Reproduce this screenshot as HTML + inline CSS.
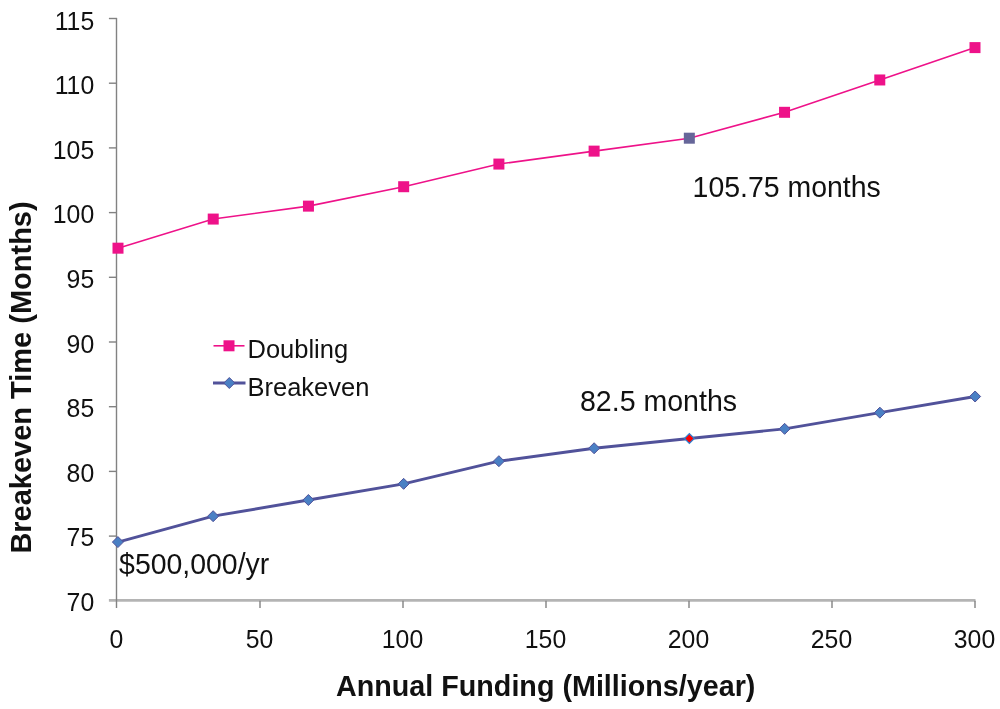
<!DOCTYPE html>
<html lang="en"><head><meta charset="utf-8"><title>Breakeven Time vs Annual Funding</title>
<style>html,body{margin:0;padding:0;background:#fff;}svg{display:block;will-change:transform;filter:blur(0.45px);}text{font-family:"Liberation Sans",Arial,sans-serif;fill:#111;}</style></head><body>
<svg width="1000" height="709" viewBox="0 0 1000 709">
<rect width="1000" height="709" fill="#fff"/>
<line x1="108.9" y1="600.4" x2="975.5" y2="600.4" stroke="#b4b4b4" stroke-width="2.6"/>
<g stroke="#828282" stroke-width="1.4" fill="none">
<line x1="116.5" y1="17.9" x2="116.5" y2="607.9"/>
<line x1="108.9" y1="18.50" x2="117.0" y2="18.50"/>
<line x1="108.9" y1="83.20" x2="117.0" y2="83.20"/>
<line x1="108.9" y1="147.90" x2="117.0" y2="147.90"/>
<line x1="108.9" y1="212.60" x2="117.0" y2="212.60"/>
<line x1="108.9" y1="277.30" x2="117.0" y2="277.30"/>
<line x1="108.9" y1="342.00" x2="117.0" y2="342.00"/>
<line x1="108.9" y1="406.70" x2="117.0" y2="406.70"/>
<line x1="108.9" y1="471.40" x2="117.0" y2="471.40"/>
<line x1="108.9" y1="536.10" x2="117.0" y2="536.10"/>
<line x1="260.00" y1="600.8" x2="260.00" y2="607.9"/>
<line x1="403.00" y1="600.8" x2="403.00" y2="607.9"/>
<line x1="546.00" y1="600.8" x2="546.00" y2="607.9"/>
<line x1="689.00" y1="600.8" x2="689.00" y2="607.9"/>
<line x1="832.00" y1="600.8" x2="832.00" y2="607.9"/>
<line x1="975.00" y1="600.8" x2="975.00" y2="607.9"/>
</g>
<text transform="translate(94.20,29.60) scale(1,1.04)" font-size="24.8" text-anchor="end">115</text>
<text transform="translate(94.20,94.18) scale(1,1.04)" font-size="24.8" text-anchor="end">110</text>
<text transform="translate(94.20,158.76) scale(1,1.04)" font-size="24.8" text-anchor="end">105</text>
<text transform="translate(94.20,223.34) scale(1,1.04)" font-size="24.8" text-anchor="end">100</text>
<text transform="translate(94.20,287.92) scale(1,1.04)" font-size="24.8" text-anchor="end">95</text>
<text transform="translate(94.20,352.50) scale(1,1.04)" font-size="24.8" text-anchor="end">90</text>
<text transform="translate(94.20,417.08) scale(1,1.04)" font-size="24.8" text-anchor="end">85</text>
<text transform="translate(94.20,481.66) scale(1,1.04)" font-size="24.8" text-anchor="end">80</text>
<text transform="translate(94.20,546.24) scale(1,1.04)" font-size="24.8" text-anchor="end">75</text>
<text transform="translate(94.20,610.82) scale(1,1.04)" font-size="24.8" text-anchor="end">70</text>
<text transform="translate(116.50,648.40) scale(1,1.04)" font-size="24.8" text-anchor="middle">0</text>
<text transform="translate(259.50,648.40) scale(1,1.04)" font-size="24.8" text-anchor="middle">50</text>
<text transform="translate(402.50,648.40) scale(1,1.04)" font-size="24.8" text-anchor="middle">100</text>
<text transform="translate(545.50,648.40) scale(1,1.04)" font-size="24.8" text-anchor="middle">150</text>
<text transform="translate(688.50,648.40) scale(1,1.04)" font-size="24.8" text-anchor="middle">200</text>
<text transform="translate(831.50,648.40) scale(1,1.04)" font-size="24.8" text-anchor="middle">250</text>
<text transform="translate(974.50,648.40) scale(1,1.04)" font-size="24.8" text-anchor="middle">300</text>
<text transform="translate(336.00,696.00) scale(1,1.015)" font-size="28.72" text-anchor="start" font-weight="bold" fill="#000">Annual Funding (Millions/year)</text>
<text transform="translate(30.5,377.5) scale(1.015,1) rotate(-90)" font-size="29.0" font-weight="bold" text-anchor="middle" fill="#000">Breakeven Time (Months)</text>
<polyline points="118.00,248.18 213.22,219.07 308.45,206.13 403.67,186.72 498.89,164.07 594.11,151.13 689.33,138.19 784.55,112.31 879.78,79.97 975.00,47.61" fill="none" stroke="#ee1289" stroke-width="1.6"/>
<rect x="112.50" y="242.68" width="11" height="11" fill="#ee1289"/>
<rect x="207.72" y="213.57" width="11" height="11" fill="#ee1289"/>
<rect x="302.95" y="200.63" width="11" height="11" fill="#ee1289"/>
<rect x="398.17" y="181.22" width="11" height="11" fill="#ee1289"/>
<rect x="493.39" y="158.57" width="11" height="11" fill="#ee1289"/>
<rect x="588.61" y="145.63" width="11" height="11" fill="#ee1289"/>
<rect x="683.83" y="132.69" width="11" height="11" fill="#666699"/>
<rect x="779.05" y="106.81" width="11" height="11" fill="#ee1289"/>
<rect x="874.28" y="74.47" width="11" height="11" fill="#ee1289"/>
<rect x="969.50" y="42.11" width="11" height="11" fill="#ee1289"/>
<polyline points="117.90,542.07 213.14,516.19 308.39,500.01 403.63,483.84 498.88,461.19 594.12,448.25 689.37,438.55 784.61,428.84 879.86,412.67 975.10,396.49" fill="none" stroke="#51529a" stroke-width="2.9" stroke-linejoin="round"/>
<path d="M117.90 536.57L123.40 542.07L117.90 547.57L112.40 542.07Z" fill="#4a80c4" stroke="#51529a" stroke-width="1"/>
<path d="M213.14 510.69L218.64 516.19L213.14 521.69L207.64 516.19Z" fill="#4a80c4" stroke="#51529a" stroke-width="1"/>
<path d="M308.39 494.51L313.89 500.01L308.39 505.51L302.89 500.01Z" fill="#4a80c4" stroke="#51529a" stroke-width="1"/>
<path d="M403.63 478.34L409.13 483.84L403.63 489.34L398.13 483.84Z" fill="#4a80c4" stroke="#51529a" stroke-width="1"/>
<path d="M498.88 455.69L504.38 461.19L498.88 466.69L493.38 461.19Z" fill="#4a80c4" stroke="#51529a" stroke-width="1"/>
<path d="M594.12 442.75L599.62 448.25L594.12 453.75L588.62 448.25Z" fill="#4a80c4" stroke="#51529a" stroke-width="1"/>
<path d="M689.37 433.65L694.27 438.55L689.37 443.45L684.47 438.55Z" fill="#ff0000" stroke="#2f80d0" stroke-width="1.3"/>
<path d="M784.61 423.34L790.11 428.84L784.61 434.34L779.11 428.84Z" fill="#4a80c4" stroke="#51529a" stroke-width="1"/>
<path d="M879.86 407.17L885.36 412.67L879.86 418.17L874.36 412.67Z" fill="#4a80c4" stroke="#51529a" stroke-width="1"/>
<path d="M975.10 390.99L980.60 396.49L975.10 401.99L969.60 396.49Z" fill="#4a80c4" stroke="#51529a" stroke-width="1"/>
<line x1="213.5" y1="345.8" x2="244.5" y2="345.8" stroke="#ee1289" stroke-width="1.6"/>
<rect x="223.5" y="340.3" width="11" height="11" fill="#ee1289"/>
<text transform="translate(247.50,358.00) scale(1,1.02)" font-size="25.5" text-anchor="start">Doubling</text>
<line x1="213" y1="383" x2="245.5" y2="383" stroke="#51529a" stroke-width="2.9"/>
<path d="M229.3 377.5L234.8 383L229.3 388.5L223.8 383Z" fill="#4a80c4" stroke="#51529a" stroke-width="1"/>
<text transform="translate(247.50,395.50) scale(1,1.02)" font-size="25.5" text-anchor="start">Breakeven</text>
<text transform="translate(692.60,197.00) scale(1,1.03)" font-size="28.45" text-anchor="start">105.75 months</text>
<text transform="translate(580.00,411.40) scale(1,1.03)" font-size="28.55" text-anchor="start">82.5 months</text>
<text transform="translate(119.10,573.70) scale(1,1.03)" font-size="28.45" text-anchor="start">$500,000/yr</text>
</svg></body></html>
